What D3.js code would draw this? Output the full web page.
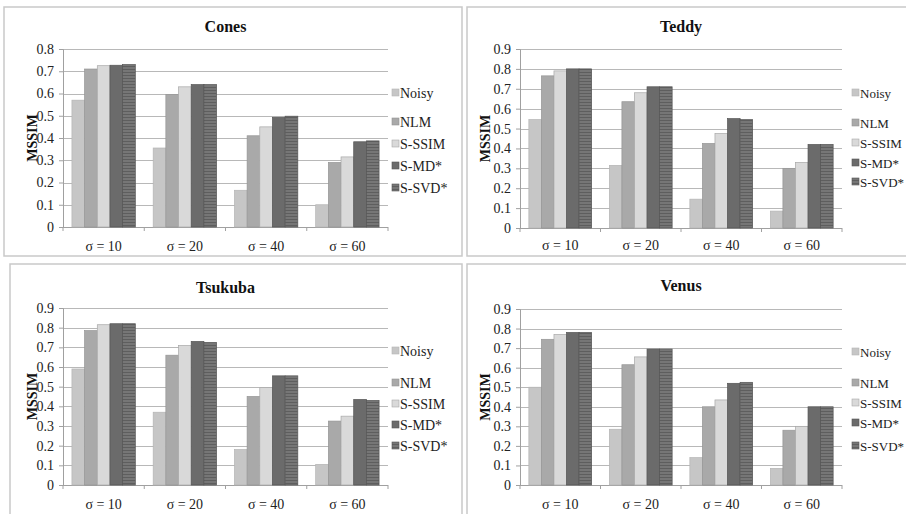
<!DOCTYPE html>
<html><head><meta charset="utf-8">
<script src="https://cdn.jsdelivr.net/npm/d3@7"></script>
<style>body{margin:0;background:#fff;}svg{display:block;} text{font-family:"Liberation Serif","DejaVu Serif",serif;}</style>
</head><body>
<svg id="c" width="906" height="514"></svg>
<script>
const categories = ["σ = 10", "σ = 20", "σ = 40", "σ = 60"];
const seriesNames = ["Noisy", "NLM", "S-SSIM", "S-MD*", "S-SVD*"];
const yTicksCones = [0, 0.1, 0.2, 0.3, 0.4, 0.5, 0.6, 0.7, 0.8];
const yTicksOther = [0, 0.1, 0.2, 0.3, 0.4, 0.5, 0.6, 0.7, 0.8, 0.9];

const cones = [
  [0.57, 0.355, 0.165, 0.10],
  [0.71, 0.595, 0.41, 0.29],
  [0.725, 0.63, 0.45, 0.315],
  [0.727, 0.64, 0.493, 0.383],
  [0.73, 0.64, 0.498, 0.387]
];
const teddy = [
  [0.545, 0.315, 0.145, 0.085],
  [0.765, 0.635, 0.425, 0.30],
  [0.79, 0.68, 0.475, 0.33],
  [0.80, 0.71, 0.55, 0.42],
  [0.80, 0.71, 0.545, 0.42]
];
const tsukuba = [
  [0.59, 0.37, 0.18, 0.105],
  [0.785, 0.66, 0.45, 0.325],
  [0.815, 0.71, 0.495, 0.35],
  [0.82, 0.73, 0.555, 0.435],
  [0.82, 0.725, 0.555, 0.43]
];
const venus = [
  [0.50, 0.285, 0.14, 0.085],
  [0.745, 0.615, 0.40, 0.28],
  [0.77, 0.655, 0.435, 0.30],
  [0.78, 0.695, 0.52, 0.40],
  [0.78, 0.695, 0.525, 0.40]
];

const fills = ["#c6c6c6", "#a9a9a9", "#d9d9d9", "#6b6b6b", "url(#hatch)"];
const strokes = ["#b4b4b4", "#959595", "#a8a8a8", "#555", "#555"];

const panels = [
  {title:"Cones", data:cones, ticks:yTicksCones, max:0.8,
   box:[4,7,458,249], x0:63, x1:388, y0:227, y1:49, titleY:32, yLab:32, legX:392, legFs:14, legY:[97,126,148,170,192], catY:251},
  {title:"Teddy", data:teddy, ticks:yTicksOther, max:0.9,
   box:[467,7,445,249], x0:520, x1:842, y0:228, y1:49, titleY:32, yLab:485, legX:852, legFs:13, legY:[97,127,147,167,186], catY:250},
  {title:"Tsukuba", data:tsukuba, ticks:yTicksOther, max:0.9,
   box:[10,264,452,260], x0:63, x1:388, y0:485, y1:308, titleY:293, yLab:32, legX:392, legFs:14, legY:[355,387,408,429,450], catY:509},
  {title:"Venus", data:venus, ticks:yTicksOther, max:0.9,
   box:[467,264,445,260], x0:520, x1:842, y0:485, y1:309, titleY:291, yLab:485, legX:852, legFs:13, legY:[356,387,407,427,450], catY:509}
];

const svg = d3.select("#c");
const defs = svg.append("defs");
const pat = defs.append("pattern").attr("id","hatch").attr("patternUnits","userSpaceOnUse")
  .attr("width",4).attr("height",3);
pat.append("rect").attr("width",4).attr("height",3).attr("fill","#767676");
pat.append("line").attr("x1",0).attr("x2",4).attr("y1",0.5).attr("y2",0.5)
  .attr("stroke","#5e5e5e").attr("stroke-width",1);

panels.forEach(p => {
  const g = svg.append("g");
  g.append("rect").attr("x",p.box[0]).attr("y",p.box[1]).attr("width",p.box[2]).attr("height",p.box[3])
    .attr("fill","#fff").attr("stroke","#c9c9c9").attr("stroke-width",1.5);

  const y = d3.scaleLinear().domain([0,p.max]).range([p.y0,p.y1]);
  const x = d3.scaleBand().domain(categories).range([p.x0,p.x1]).paddingInner(0.22).paddingOuter(0.11);
  const xs = d3.scaleBand().domain(d3.range(seriesNames.length)).range([0,x.bandwidth()]);

  // gridlines
  g.append("g").selectAll("line").data(p.ticks.filter(t=>t>0)).join("line")
    .attr("x1",p.x0).attr("x2",p.x1).attr("y1",d=>Math.round(y(d))+0.5).attr("y2",d=>Math.round(y(d))+0.5)
    .attr("stroke","#b8b8b8").attr("stroke-width",1);

  // y axis
  const ya = g.append("g").attr("transform",`translate(${p.x0},0)`)
    .call(d3.axisLeft(y).tickValues(p.ticks).tickFormat(d=>d===0?"0":d3.format(".1f")(d)).tickSize(4).tickPadding(5));
  ya.attr("font-family",null).attr("font-size",null);
  ya.select(".domain").attr("stroke","#a0a0a0");
  ya.selectAll(".tick line").attr("stroke","#a0a0a0");
  ya.selectAll("text").style("font-size","14px").attr("fill","#222");

  // x axis
  const xEdges = d3.range(categories.length+1).map(i => p.x0 + i*(p.x1-p.x0)/categories.length);
  g.append("line").attr("x1",p.x0).attr("x2",p.x1).attr("y1",p.y0+0.5).attr("y2",p.y0+0.5).attr("stroke","#a0a0a0");
  g.append("g").selectAll("line").data(xEdges).join("line")
    .attr("x1",d=>d).attr("x2",d=>d).attr("y1",p.y0).attr("y2",p.y0+4).attr("stroke","#a0a0a0");
  g.append("g").selectAll("text").data(categories).join("text")
    .attr("x",d=>x(d)+x.bandwidth()/2).attr("y",p.catY).attr("text-anchor","middle")
    .style("font-size","14px").attr("fill","#222").text(d=>d);

  // bars
  p.data.forEach((vals, si) => {
    g.append("g").selectAll("rect").data(vals).join("rect")
      .attr("x",(d,i)=>x(categories[i])+xs(si))
      .attr("width",xs.bandwidth())
      .attr("y",d=>y(d)).attr("height",d=>y(0)-y(d))
      .attr("fill",fills[si]).attr("stroke",strokes[si]).attr("stroke-width",0.7);
  });

  // title
  g.append("text").attr("x",(p.x0+p.x1)/2).attr("y",p.titleY).attr("text-anchor","middle")
    .style("font-size","16px").style("font-weight","bold").attr("fill","#111").text(p.title);

  // y label
  g.append("text").attr("transform",`translate(${p.yLab+5},${(p.y0+p.y1)/2}) rotate(-90)`)
    .attr("text-anchor","middle").style("font-size","14px").style("font-weight","bold")
    .attr("fill","#111").text("MSSIM");

  // legend
  const lg = g.append("g");
  seriesNames.forEach((n,i) => {
    lg.append("rect").attr("x",p.legX).attr("y",p.legY[i]-8).attr("width",7).attr("height",7)
      .attr("fill",fills[i]).attr("stroke",strokes[i]).attr("stroke-width",0.6);
    lg.append("text").attr("x",p.legX+8).attr("y",p.legY[i]+1).style("font-size",p.legFs+"px")
      .attr("fill","#222").text(n);
  });
});
</script>
</body></html>
